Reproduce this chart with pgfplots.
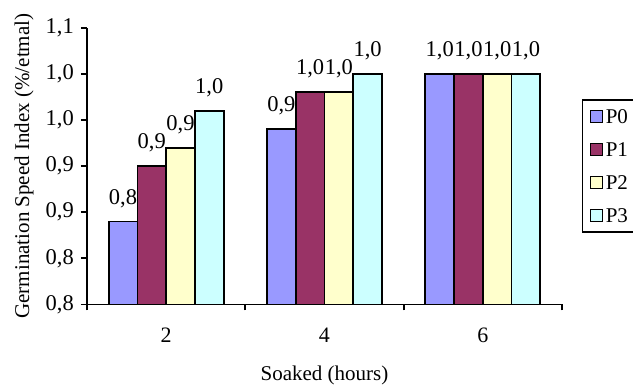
\documentclass[border=0pt]{standalone}
\usepackage{fontspec}
\setmainfont{Liberation Serif}
\usepackage{pgfplots}
\pgfplotsset{compat=1.18}
\definecolor{cP0}{HTML}{9999FF}
\definecolor{cP1}{HTML}{993366}
\definecolor{cP2}{HTML}{FFFFCC}
\definecolor{cP3}{HTML}{CCFFFF}
\begin{document}
\fontsize{21pt}{25pt}\selectfont
\begin{tikzpicture}
\path[use as bounding box] (-87pt,-80.5pt) rectangle (546pt,304.5pt);
\clip (-87pt,-80.5pt) rectangle (546pt,304.5pt);
\begin{axis}[
  scale only axis, width=475pt, height=276.8pt,
  at={(0pt,0pt)}, anchor=south west,
  ybar=0pt, bar width=28.75pt,
  xmin=-0.5, xmax=2.5, ymin=0.75, ymax=1.05,
  axis x line*=bottom, axis y line*=left,
  axis line style={line width=1.8pt, -},
  tick align=outside, major tick length=6pt,
  tick style={line width=1.8pt, black},
  xtick={-0.5,0.5,1.5,2.5}, xticklabels={},
  extra x ticks={0,1,2}, extra x tick labels={2,4,6},
  extra x tick style={major tick length=0pt, xticklabel style={anchor=base, yshift=-38pt, font=\fontsize{22}{26}\selectfont}},
  ytick={0.75,0.80,0.85,0.90,0.95,1.00,1.05},
  yticklabels={{0,8},{0,8},{0,9},{0,9},{1,0},{1,0},{1,1}},
  yticklabel style={font=\fontsize{22.5}{27}\selectfont},
  every axis y label/.style={at={(axis description cs:-0.1326,0.5)}, rotate=90, anchor=center},
  every axis x label/.style={at={(axis description cs:0.5,-0.2728)}, anchor=base},
  ylabel={Germination Speed Index (\%/etmal)},
  xlabel={Soaked (hours)},
  /pgf/number format/.cd, fixed, fixed zerofill, precision=1, use comma, assume math mode=true,
  /pgfplots/.cd,
  nodes near coords,
  every node near coord/.append style={yshift=6pt, black, font=\fontsize{22.5}{27}\selectfont},
  legend style={at={(1.042,0.742)}, anchor=north west, draw=black, line width=1.5pt,
    inner sep=7pt, row sep=14pt, nodes={inner sep=2.5pt, text height=14pt, text depth=0pt}},
  legend cell align=left,
  legend image code/.code={\draw[#1, line width=1.6pt] (0pt,-6pt) rectangle (12pt,6pt);},
]
\addplot[draw=black, line width=1.8pt, fill=cP0] coordinates {(0,0.84) (1,0.94) (2,1.00)};
\addplot[draw=black, line width=1.8pt, fill=cP1] coordinates {(0,0.90) (1,0.98) (2,1.00)};
\addplot[draw=black, line width=1.8pt, fill=cP2] coordinates {(0,0.92) (1,0.98) (2,1.00)};
\addplot[draw=black, line width=1.8pt, fill=cP3] coordinates {(0,0.96) (1,1.00) (2,1.00)};
\legend{P0,P1,P2,P3}
\end{axis}
\end{tikzpicture}
\end{document}
